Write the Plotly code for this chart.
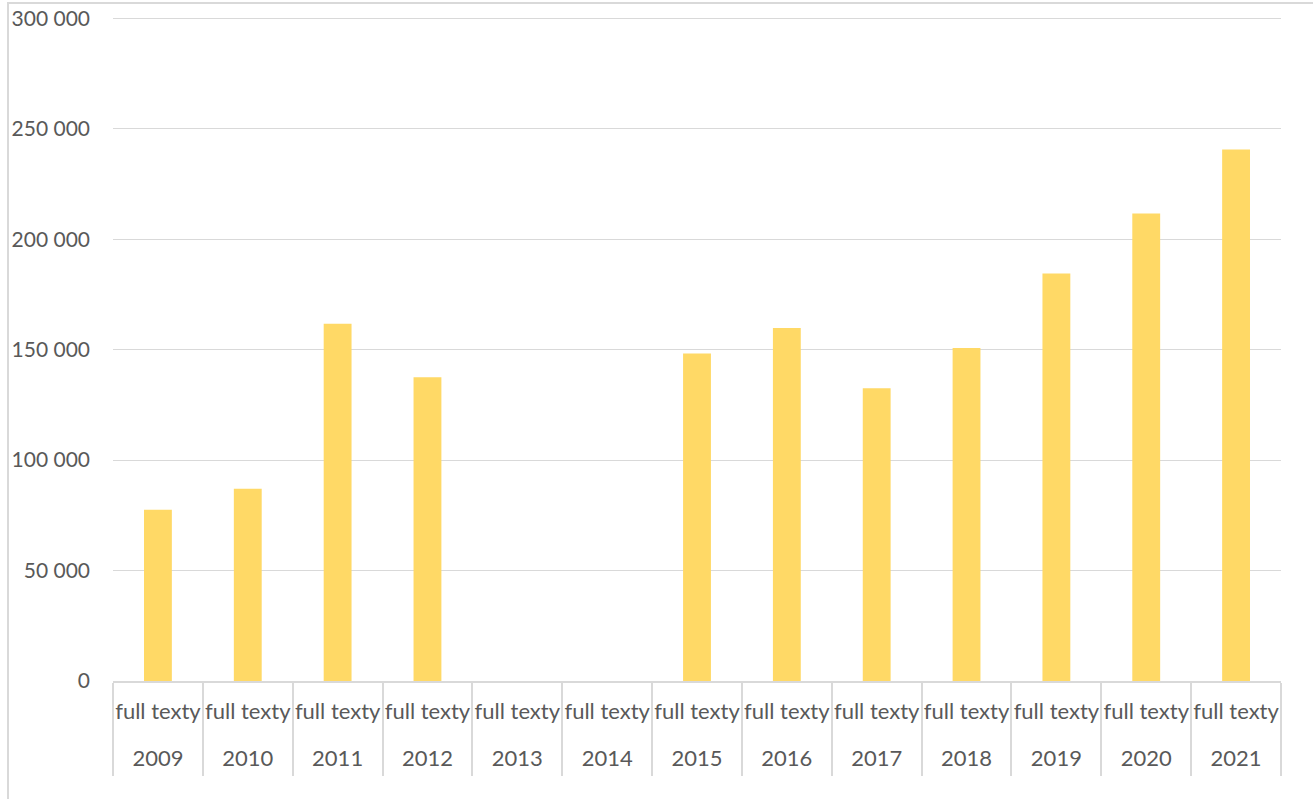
import plotly.graph_objects as go

years = ["2009", "2010", "2011", "2012", "2013", "2014", "2015", "2016", "2017", "2018", "2019", "2020", "2021"]
inner_labels = ["full texty"] * len(years)
values = [77500, 87000, 161700, 137500, 0, 0, 148300, 159800, 132500, 150700, 184500, 211600, 240600]
y_ticks = [0, 50000, 100000, 150000, 200000, 250000, 300000]

W, H = 1313, 799
L, R, T, B = 113, 32, 15, 118
pw = W - L - R
ph = H - T - B

GRID = "#D9D9D9"
TXT = "#595959"
FONT = "Lato"

fig = go.Figure()
fig.add_trace(go.Bar(
    x=years, y=values, xaxis="x", yaxis="y",
    marker=dict(color="#FFD966", line=dict(width=0)),
    width=0.31, hoverinfo="y",
))
# invisible helper traces so the overlay label axes get the same categories
for ax in ("x2", "x3"):
    fig.add_trace(go.Scatter(
        x=years, y=values, xaxis=ax, yaxis="y", mode="markers",
        marker=dict(opacity=0), hoverinfo="skip", showlegend=False,
    ))

rng = [-0.5, len(years) - 0.5]
common = dict(type="category", categoryorder="array", categoryarray=years,
              range=rng, fixedrange=True, automargin=False, showgrid=False, zeroline=False)

fig.update_layout(
    width=W, height=H,
    margin=dict(l=L, r=R, t=T, b=B),
    paper_bgcolor="white", plot_bgcolor="white",
    font=dict(family=FONT, size=21, color=TXT),
    separators=", ",
    showlegend=False,
    xaxis=dict(**common, showline=True, linecolor=GRID, linewidth=1.5,
               ticks="outside", tickson="boundaries", ticklen=93,
               tickcolor=GRID, tickwidth=1.5, showticklabels=False),
    xaxis2=dict(**common, overlaying="x", side="bottom", showline=False, ticks="",
                tickmode="array", tickvals=years, ticktext=inner_labels,
                ticklabelstandoff=15,
                tickfont=dict(family=FONT, size=22, color=TXT)),
    xaxis3=dict(**common, overlaying="x", side="bottom", showline=False, ticks="",
                tickmode="array", tickvals=years, ticktext=years,
                ticklabelstandoff=62,
                tickfont=dict(family=FONT, size=22, color=TXT)),
    yaxis=dict(range=[0, 301500], tickvals=y_ticks, tickformat=",d",
               showgrid=True, gridcolor=GRID, gridwidth=1.2,
               zeroline=False, showline=False, automargin=False, fixedrange=True,
               ticks="", ticklabelstandoff=22, ticklabeloverflow="allow",
               tickfont=dict(family=FONT, size=21, color=TXT)),
)
# outer chart frame
fig.add_shape(type="rect", xref="paper", yref="paper",
              x0=(8 - L) / pw, x1=(W + 10 - L) / pw,
              y0=-(H + 10 - T - ph) / ph, y1=1 + (T - 3) / ph,
              line=dict(color=GRID, width=2), fillcolor="rgba(0,0,0,0)", layer="below")

fig.write_html("out.html", config={"displayModeBar": False},
               post_script="document.body.style.margin='0';")
